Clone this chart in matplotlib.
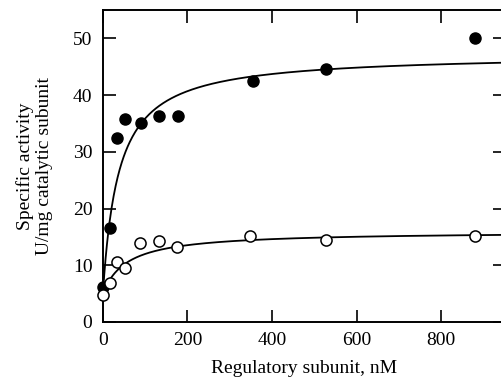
import numpy as np
import matplotlib.pyplot as plt

plt.rcParams['font.family'] = ['Liberation Serif', 'DejaVu Serif']

# filled circles
x_filled = [0, 17, 33, 52, 90, 132, 177, 355, 528, 880]
y_filled = [6.2, 16.5, 32.4, 35.7, 35.1, 36.4, 36.3, 42.4, 44.6, 50.0]
# open circles
x_open = [0, 17, 33, 52, 88, 132, 176, 348, 528, 880]
y_open = [4.8, 6.9, 10.6, 9.5, 13.9, 14.3, 13.2, 15.1, 14.4, 15.1]

# hyperbolic fit parameters (y0, A, K)
fit_filled = (5.0, 42.3, 37.0)
fit_open = (5.0, 10.97, 57.0)

fig = plt.figure(figsize=(5.02, 3.86), dpi=100)
ax = fig.add_axes([0.205, 0.166, 0.8, 0.808])

xx = np.linspace(0, 950, 600)
for y0, A, K in (fit_filled, fit_open):
    ax.plot(xx, y0 + A * xx / (K + xx), color='black', lw=1.3, zorder=2)

ax.plot(x_filled, y_filled, 'o', color='black', ms=8, zorder=3, clip_on=False)
ax.plot(x_open, y_open, 'o', mfc='white', mec='black', mew=1.1, ms=8, zorder=3, clip_on=False)

ax.set_xlim(0, 950)
ax.set_ylim(0, 55)
ax.set_xticks([0, 200, 400, 600, 800])
ax.set_yticks([0, 10, 20, 30, 40, 50])
ax.tick_params(direction='in', length=9, width=1.2, labelsize=14, pad=7.5,
               top=True, right=True)
for s in ax.spines.values():
    s.set_linewidth(1.4)

ax.set_xlabel('Regulatory subunit, nM', fontsize=14, labelpad=8)
ax.set_ylabel('Specific activity\nU/mg catalytic subunit', fontsize=14,
              labelpad=14, linespacing=1.2)

fig.savefig('out.png', dpi=100)
